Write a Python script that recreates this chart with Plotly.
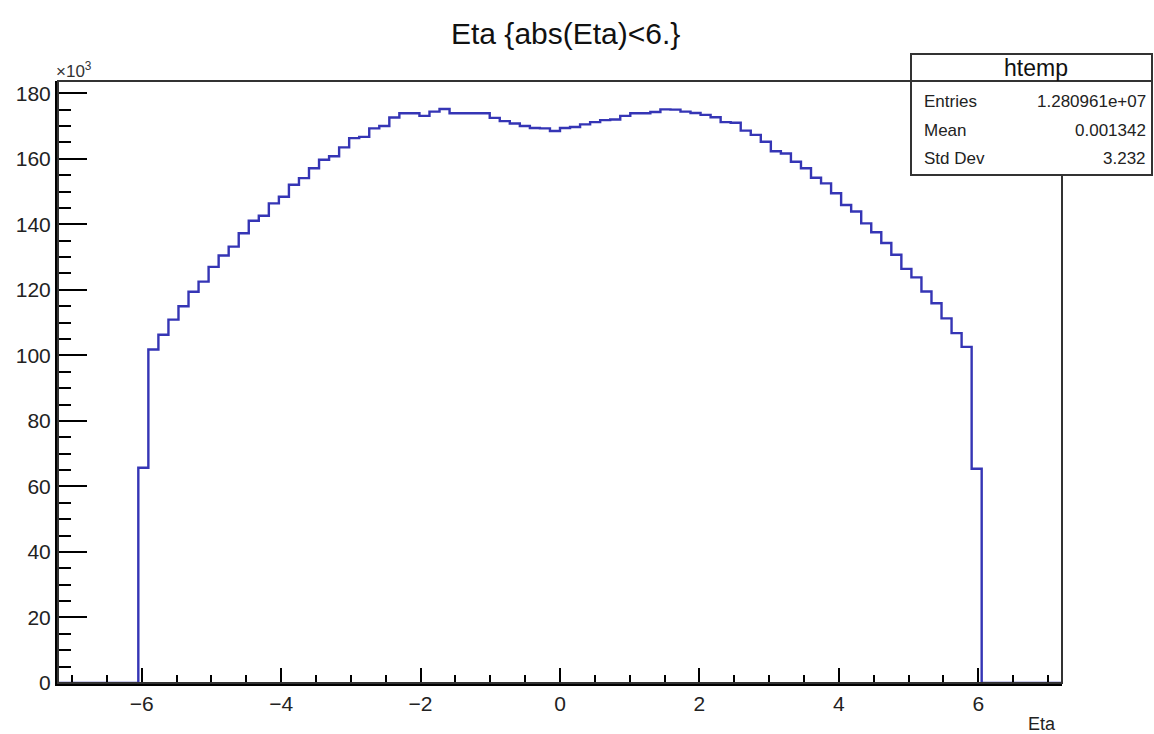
import numpy as np
import plotly.graph_objects as go

# ---------------- data ----------------
x_min = -7.2
x_max = 7.2
n_bins = 100
first_filled_bin = 8  # index of first non-empty bin

# bin contents (x10^3), bins 8 .. 91
counts_k = [
    65.7, 101.8, 106.3, 110.9, 115.0, 119.4, 122.5, 127.0, 130.5, 133.2,
    137.3, 141.1, 142.6, 146.4, 148.4, 152.1, 154.1, 157.1, 159.7, 160.8,
    163.5, 166.3, 166.7, 169.3, 170.0, 172.6, 173.9, 173.9, 173.1, 174.4,
    175.2, 173.9, 173.9, 173.9, 173.9, 172.5, 171.5, 170.8, 170.0, 169.4,
    169.3, 168.5, 169.4, 169.7, 170.5, 171.2, 171.8, 172.0, 173.1, 173.9,
    173.9, 174.3, 175.1, 175.0, 174.4, 174.0, 173.4, 172.7, 171.2, 171.0,
    168.6, 167.3, 165.2, 162.3, 161.6, 159.1, 157.1, 154.2, 152.5, 149.5,
    145.9, 143.9, 140.3, 137.6, 134.3, 130.7, 126.4, 123.8, 119.5, 115.9,
    111.3, 106.8, 102.6, 65.4,
]

x_tick_vals = [-6, -4, -2, 0, 2, 4, 6]
y_tick_vals = [0, 20, 40, 60, 80, 100, 120, 140, 160, 180]

title_text = "Eta {abs(Eta)&lt;6.}"
x_title = "Eta"
stats_name = "htemp"
stats_labels = ["Entries", "Mean", "Std Dev"]
stats_values = ["1.280961e+07", "0.001342", "3.232"]

# ---------------- build histogram ----------------
edges = np.linspace(x_min, x_max, n_bins + 1)
contents = np.zeros(n_bins)
contents[first_filled_bin:first_filled_bin + len(counts_k)] = counts_k
y_step = np.append(contents, contents[-1])

FONT = "Liberation Sans, Arial, Helvetica, sans-serif"

fig = go.Figure()
fig.add_trace(go.Scatter(
    x=edges, y=y_step, mode="lines", line_shape="hv",
    line=dict(color="#3535b5", width=2.4),
    cliponaxis=False, showlegend=False, hoverinfo="skip",
))

W, H = 1154, 734
L, R, T, B = 58, 92, 81, 51

fig.update_layout(
    width=W, height=H,
    margin=dict(l=L, r=R, t=T, b=B),
    paper_bgcolor="white", plot_bgcolor="white",
    font=dict(family=FONT, color="black"),
    showlegend=False,
)

fig.update_xaxes(
    range=[x_min, x_max], tickvals=x_tick_vals,
    ticks="inside", ticklen=15, tickwidth=2, tickcolor="black",
    showline=True, linewidth=3, linecolor="black",
    showgrid=False, zeroline=False,
    tickfont=dict(size=21, family=FONT, color="#222"),
    minor=dict(dtick=0.5, ticks="inside", ticklen=8, tickwidth=1.5, tickcolor="black", showgrid=False),
)
fig.update_yaxes(
    range=[0, 183.75], tickvals=y_tick_vals,
    ticks="inside", ticklen=29, tickwidth=2, tickcolor="black",
    showline=True, linewidth=3, linecolor="black",
    showgrid=False, zeroline=False,
    tickfont=dict(size=21, family=FONT, color="#222"),
    minor=dict(dtick=5, ticks="inside", ticklen=13, tickwidth=1.5, tickcolor="black", showgrid=False),
)

def px_x(px):
    return (px - L) / (W - L - R)

def px_y(py):
    return (H - B - py) / (H - T - B)

shapes = [
    # frame (top/right)
    dict(type="rect", xref="paper", yref="paper", x0=0, x1=1, y0=0, y1=1,
         line=dict(color="#333", width=2), layer="above"),
    # stats box
    dict(type="rect", xref="paper", yref="paper",
         x0=px_x(911), x1=px_x(1152), y0=px_y(175), y1=px_y(54),
         line=dict(color="#333", width=2), fillcolor="white", layer="above"),
    dict(type="line", xref="paper", yref="paper",
         x0=px_x(911), x1=px_x(1152), y0=px_y(81), y1=px_y(81),
         line=dict(color="#333", width=2), layer="above"),
]
fig.update_layout(shapes=shapes)

ann = []
ann.append(dict(text=title_text, xref="paper", yref="paper",
                x=px_x(565), y=px_y(34), xanchor="center", yanchor="middle",
                showarrow=False, font=dict(size=30, family=FONT, color="#111")))
ann.append(dict(text="×10<sup>3</sup>", xref="paper", yref="paper",
                x=px_x(54), y=px_y(70), xanchor="left", yanchor="middle",
                showarrow=False, font=dict(size=17, family=FONT, color="#333")))
ann.append(dict(text=x_title, xref="paper", yref="paper",
                x=px_x(1058), y=px_y(724), xanchor="right", yanchor="middle",
                showarrow=False, font=dict(size=18, family=FONT, color="#222")))
ann.append(dict(text=stats_name, xref="paper", yref="paper",
                x=px_x(1036), y=px_y(68), xanchor="center", yanchor="middle",
                showarrow=False, font=dict(size=23, family=FONT, color="#111")))
row_py = [101, 130, 158]
for lab, val, py in zip(stats_labels, stats_values, row_py):
    ann.append(dict(text=lab, xref="paper", yref="paper",
                    x=px_x(922), y=px_y(py), xanchor="left", yanchor="middle",
                    showarrow=False, font=dict(size=17, family=FONT, color="#222")))
    ann.append(dict(text=val, xref="paper", yref="paper",
                    x=px_x(1148), y=px_y(py), xanchor="right", yanchor="middle",
                    showarrow=False, font=dict(size=17, family=FONT, color="#222")))
fig.update_layout(annotations=ann)

fig.write_html(
    "out.html",
    config={"displayModeBar": False},
    post_script="document.body.style.margin='0';document.body.style.padding='0';",
)
